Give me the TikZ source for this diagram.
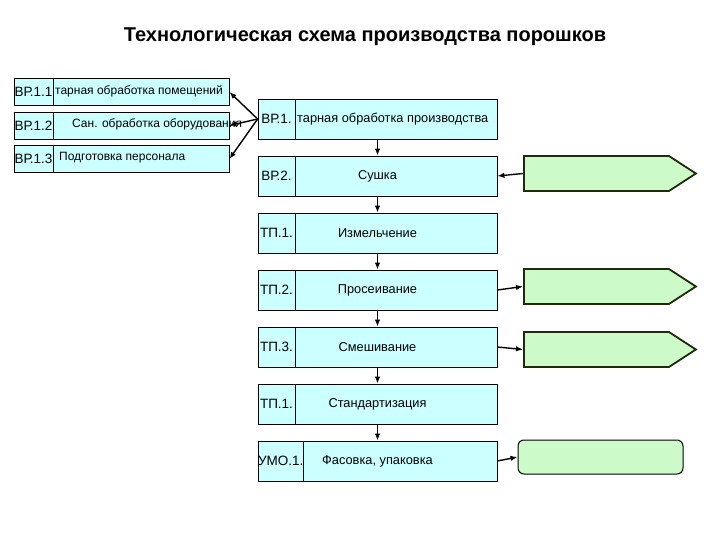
\documentclass[tikz,border=0pt]{standalone}
\usepackage{fontspec}
\setmainfont{Liberation Sans}
\usetikzlibrary{arrows.meta,positioning,shapes.symbols}
\definecolor{boxfill}{RGB}{204,255,255}
\definecolor{grnfill}{RGB}{204,250,200}
\definecolor{grndraw}{RGB}{30,42,10}

\begin{document}
\begin{tikzpicture}[x=1pt,y=-1pt,
    mainbox/.style={draw,fill=boxfill,line width=0.8pt,minimum width=239pt,minimum height=40pt,inner sep=0pt,font=\fontsize{12.8}{14}\selectfont},
    codebox/.style={draw,fill=boxfill,line width=0.8pt,minimum height=40pt,inner sep=0pt,align=center,font=\fontsize{13.5}{16}\selectfont},
    leftbox/.style={draw,fill=boxfill,line width=0.8pt,minimum width=215pt,minimum height=27pt,inner sep=0pt},
    leftcode/.style={draw,fill=boxfill,line width=0.8pt,text width=39pt,align=center,minimum height=27pt,inner sep=0pt,font=\fontsize{13.5}{16}\selectfont},
    outbox/.style={signal,signal to=east,signal pointer angle=66,draw=grndraw,fill=grnfill,line width=1.8pt,minimum width=172pt,minimum height=35pt,inner sep=0pt,anchor=west},
    arr/.style={-{Latex[length=7pt,width=5.5pt]},line width=1.4pt}]
  \useasboundingbox (0,0) rectangle (720,540);

  \node[font=\bfseries\fontsize{20}{24}\selectfont] (title) at (365,37) {Технологическая схема производства порошков};

  \foreach \i/\name/\tx in {1/{тарная обработка помещений}/55,2/{Сан. обработка оборудования}/72,3/{Подготовка персонала}/59}{
    \node[leftbox] (l\i) at (121.5,{92+33.5*(\i-1)}) {};
    \node[leftcode,anchor=west] (lc\i) at (l\i.west) {ВР.1.\i};
    \node[anchor=west,inner sep=0pt,font=\fontsize{12}{14}\selectfont] (ln\i) at (\tx,{91+33.5*(\i-1)}) {\name};
  }

  \node[mainbox] (m1) at (377.5,119) {};
  \node[codebox,text width=37pt,anchor=west] (c1) at (m1.west) {ВР.1.};
  \node[anchor=west,inner sep=0pt,font=\fontsize{12.8}{14}\selectfont] (n1) at (297,119) {тарная обработка производства};
  \foreach \i/\code/\name/\w in {2/ВР.2./Сушка/37,3/ТП.1./Измельчение/37,4/ТП.2./Просеивание/37,5/ТП.3./Смешивание/37,6/ТП.1./Стандартизация/37,7/УМО.1./{Фасовка, упаковка}/45}{
    \node[mainbox] (m\i) at (377.5,{119+57*(\i-1)}) {\name};
    \node[codebox,text width=\w pt,anchor=west] (c\i) at (m\i.west) {\code};
  }
  \foreach \i in {1,...,6}{
    \pgfmathtruncatemacro\j{\i+1}
    \draw[arr] (m\i.south) -- (m\j.north);
  }
  \foreach \i in {1,2,3}
    \draw[arr] (m1.west) -- (l\i.east);

  \node[outbox] (g2) at (523,173.5) {};
  \node[outbox] (g4) at (523,286.5) {};
  \node[outbox] (g5) at (523,349.5) {};
  \node[draw,fill=grnfill,line width=1pt,rounded corners=6pt,minimum width=165pt,minimum height=34pt,inner sep=0pt] (g7) at (600.5,457) {};

  \draw[arr] (g2.west) -- (m2.east);
  \draw[arr] (m4.east) -- (g4.west);
  \draw[arr] (m5.east) -- (g5.west);
  \draw[arr] (m7.east) -- (g7.west);
\end{tikzpicture}
\end{document}
